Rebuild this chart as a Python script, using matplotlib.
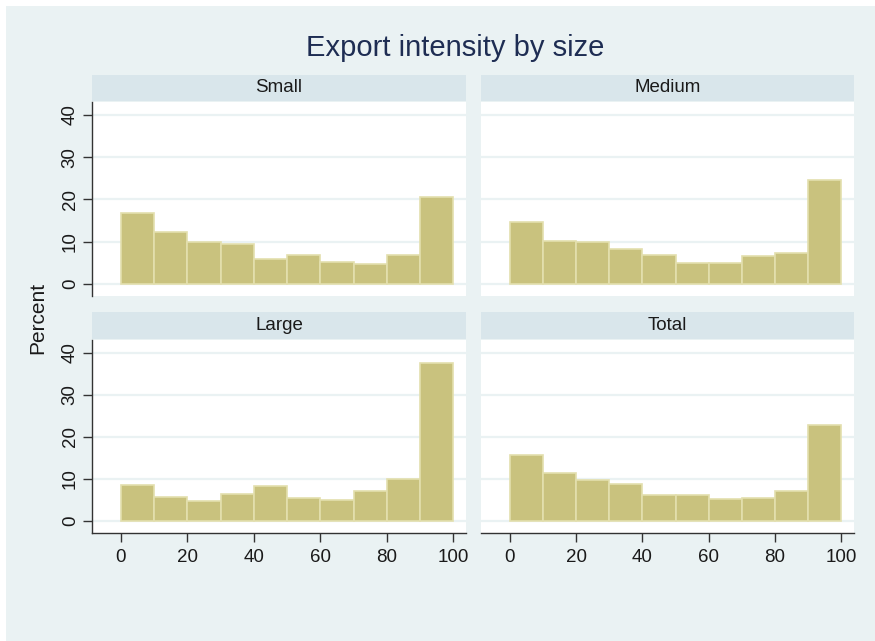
import matplotlib
matplotlib.use("Agg")
import matplotlib.pyplot as plt
from matplotlib.patches import Rectangle

plt.rcParams['font.family'] = ['Liberation Sans', 'DejaVu Sans']

bin_edges = [0, 10, 20, 30, 40, 50, 60, 70, 80, 90, 100]
small = [16.8, 12.4, 10.0, 9.5, 5.9, 6.8, 5.3, 4.8, 6.8, 20.6]
medium = [14.6, 10.3, 10.0, 8.2, 6.9, 4.9, 5.1, 6.7, 7.3, 24.6]
large = [8.6, 5.7, 4.9, 6.4, 8.3, 5.4, 5.0, 7.1, 9.9, 37.6]
total = [15.8, 11.4, 9.7, 8.9, 6.3, 6.2, 5.2, 5.5, 7.1, 22.9]
panel_names = ["Small", "Medium", "Large", "Total"]
xticks = [0, 20, 40, 60, 80, 100]
yticks = [0, 10, 20, 30, 40]

W, H = 875, 641
fig = plt.figure(figsize=(W / 100, H / 100), dpi=100, facecolor="white")

BG = "#EAF2F3"
STRIP = "#D9E6EB"
BAR = "#C9C27E"
BAR_EDGE = "#E3DFAE"
TXT = "#1a1a1a"

fig.patches.append(Rectangle((6 / W, 0), (W - 6) / W, (H - 6) / H,
                             transform=fig.transFigure, facecolor=BG,
                             edgecolor="none", zorder=-10))


def rect(x0, y0, x1, y1):
    return [x0 / W, 1 - y1 / H, (x1 - x0) / W, (y1 - y0) / H]


layout = {
    "Small": ((92, 102, 466, 296), (92, 75, 466, 101), True, False),
    "Medium": ((481, 102, 854, 296), (481, 75, 854, 101), False, False),
    "Large": ((92, 340, 466, 533), (92, 312, 466, 339), True, True),
    "Total": ((481, 340, 854, 533), (481, 312, 854, 339), False, True),
}
values = {"Small": small, "Medium": medium, "Large": large, "Total": total}

for name in panel_names:
    prect, srect, show_y, show_x = layout[name]
    ax = fig.add_axes(rect(*prect))
    ax.set_facecolor("white")
    vals = values[name]
    lefts = bin_edges[:-1]
    widths = [b - a for a, b in zip(bin_edges[:-1], bin_edges[1:])]
    ax.bar(lefts, vals, width=widths, align="edge", color=BAR,
           edgecolor=BAR_EDGE, linewidth=1.2, zorder=3)
    ax.set_xlim(-8.7, 103.8)
    ax.set_ylim(-2.8, 43.0)
    ax.set_yticks(yticks)
    ax.set_xticks(xticks)
    for y in yticks:
        ax.axhline(y, color=BG, linewidth=1.6, zorder=1)
    for side in ["top", "right"]:
        ax.spines[side].set_visible(False)
    ax.spines["left"].set_visible(show_y)
    ax.spines["bottom"].set_visible(show_x)
    ax.spines["left"].set_color("#333333")
    ax.spines["bottom"].set_color("#333333")
    ax.spines["left"].set_linewidth(1.0)
    ax.spines["bottom"].set_linewidth(1.0)
    ax.tick_params(axis="y", left=show_y, labelleft=show_y, length=6.5,
                   width=1.0, color="#333333", labelsize=13.5, labelcolor=TXT,
                   pad=3)
    ax.tick_params(axis="x", bottom=show_x, labelbottom=show_x, length=6.5,
                   width=1.0, color="#333333", labelsize=13.5, labelcolor=TXT,
                   pad=5)
    if show_y:
        for lab in ax.get_yticklabels():
            lab.set_rotation(90)
            lab.set_va("center")
    sax = fig.add_axes(rect(*srect))
    sax.set_facecolor(STRIP)
    sax.set_xticks([])
    sax.set_yticks([])
    for sp in sax.spines.values():
        sp.set_visible(False)
    sax.text(0.5, 0.5, name, ha="center", va="center", fontsize=13.5,
             color=TXT, transform=sax.transAxes)

fig.text(455 / W, 1 - 48 / H, "Export intensity by size", ha="center",
         va="center", fontsize=21, color="#1E2D53")
fig.text(38 / W, 1 - 318 / H, "Percent", ha="center", va="center",
         rotation=90, fontsize=15, color=TXT)

fig.savefig("out.png", dpi=100, facecolor=fig.get_facecolor())
